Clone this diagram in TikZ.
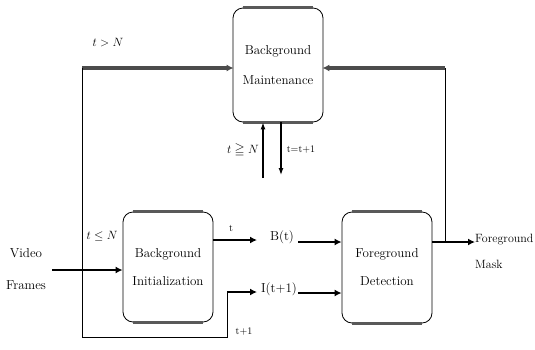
\documentclass[tikz,border=0pt]{standalone}
\usepackage{amssymb}
\usetikzlibrary{arrows.meta}
\begin{document}
\begin{tikzpicture}[x=1pt,y=-1pt,
  blk/.style={draw, line width=0.8pt, rounded corners=10pt, align=center, font=\fontsize{13}{16}\selectfont, inner sep=0pt},
  edge/.style={gray!70!black, line width=2.4pt},
  thickarrow/.style={line width=2.8pt, -{Latex[length=7pt,width=7pt]}},
  grayarrow/.style={line width=3.5pt, black!70, -{Latex[length=7pt,width=7pt]}, shorten >=-1pt},
  thinline/.style={line width=0.8pt},
  thinarrow/.style={line width=1.2pt, -{Latex[length=7pt,width=5pt]}},
  lbl/.style={font=\fontsize{13}{16}\selectfont, inner sep=1pt},
  small/.style={font=\fontsize{10}{12}\selectfont, inner sep=1pt}]
\useasboundingbox (0,0) rectangle (535,349);
% boxes
\node[blk, minimum width=90pt, minimum height=114pt] (bm) at (278,65) {Background\\[14pt]Maintenance};
\node[blk, minimum width=90pt, minimum height=110pt] (bi) at (168,267) {Background\\[12pt]Initialization};
\node[blk, minimum width=90pt, minimum height=111pt] (fd) at (387,267.5) {Foreground\\[12pt]Detection};
\foreach \b in {bm,bi,fd}{
  \draw[edge] ([xshift=10pt]\b.north west) -- ([xshift=-10pt]\b.north east);
  \draw[edge] ([xshift=10pt]\b.south west) -- ([xshift=-10pt]\b.south east);
}
% coordinates
\coordinate (lt) at (82,68);
\coordinate (lb) at (82,337);
\coordinate (cb) at (227,337);
\coordinate (cm) at (227,292);
\coordinate (ie) at (257,292);
\coordinate (be) at (257,240);
\coordinate (rt) at (445,68);
\coordinate (rj) at (445,242);
\coordinate (vs) at (52,270);
\coordinate (bs) at (298,242);
\coordinate (is) at (298,293);
\coordinate (fm) at (475,242);
\coordinate (ua) at (263,178);
\coordinate (da) at (281,175);
% top feedback loop
\draw[grayarrow] (lt) -- (bm.west |- lt);
\draw[thinline] (lt) -- (lb) -- (cb) -- (cm);
\draw[thickarrow] (cm) -- (ie);
\draw[thinline] (rj) -- (rt);
\draw[grayarrow] (rt) -- (bm.east |- rt);
% main flow
\node[lbl, align=center] (vf) at (26,269) {Video\\[16pt]Frames};
\draw[thickarrow] (vs) -- (bi.west |- vs);
\draw[thickarrow] (bi.east |- be) -- (be);
\node[lbl] (bt) at (282,237) {B(t)};
\node[lbl] (it) at (279,289) {I(t+1)};
\draw[thickarrow] (bs) -- (fd.west |- bs);
\draw[thickarrow] (is) -- (fd.west |- is);
\draw[thickarrow] (fd.east |- fm) -- (fm);
\node[lbl, anchor=west, align=left, inner sep=0pt, font=\fontsize{12}{14}\selectfont] (mask) at (475,251) {Foreground\\[12pt]Mask};
% BM vertical arrows
\draw[thinarrow] (ua) -- (bm.south -| ua);
\draw[thinarrow] (bm.south -| da) -- (da);
% labels
\node[lbl] (l1) at (108,43) {$t>N$};
\node[lbl] (l2) at (243,150) {$t\geqq N$};
\node[small] (l3) at (301,150) {t=t+1};
\node[lbl] (l4) at (102,236) {$t\leq N$};
\node[small] (l5) at (231,228) {t};
\node[small] (l6) at (244,332) {t+1};
\end{tikzpicture}
\end{document}
